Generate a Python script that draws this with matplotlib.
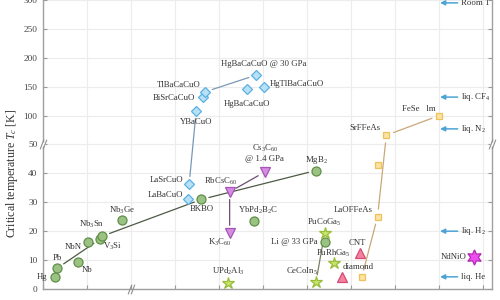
import numpy as np
import matplotlib
matplotlib.use("Agg")
import matplotlib.pyplot as plt
from matplotlib.path import Path

plt.rcParams["font.family"] = ["Liberation Serif", "DejaVu Serif"]
plt.rcParams["mathtext.fontset"] = "custom"
plt.rcParams["mathtext.rm"] = "Liberation Serif"
plt.rcParams["mathtext.it"] = "Liberation Serif:italic"

# conventional (BCS) superconductors
bcs_names = ["Hg", "Pb", "Nb", "NbN", "V$_3$Si", "Nb$_3$Sn", "Nb$_3$Ge",
             "BKBO", "YbPd$_2$B$_2$C", "MgB$_2$", "Li @ 33 GPa"]
bcs_year = [1911, 1913, 1932, 1941, 1952, 1954, 1972, 1988, 1994, 2001, 2002]
bcs_tc = [4.2, 7.2, 9.3, 16.3, 17.3, 18.3, 23.7, 31, 23.5, 41, 16.3]

# heavy fermions
hf_names = ["UPd$_2$Al$_3$", "CeCoIn$_5$", "PuCoGa$_5$", "PuRhGa$_5$"]
hf_year = [1991, 2001, 2002, 2003]
hf_tc = [2.0, 2.3, 19.5, 9.0]

# cuprates
cup_names = ["LaBaCuO", "LaSrCuO", "YBaCuO", "BiSrCaCuO", "TlBaCaCuO",
             "HgBaCaCuO", "HgBaCaCuO @ 30 GPa", "HgTlBaCaCuO"]
cup_year = [1986.5, 1986.6, 1987.4, 1988.2, 1988.4, 1993.2, 1994.2, 1995.1]
cup_tc = [31, 36.3, 108, 132, 141, 146, 170, 150]

# fullerides
c60_names = ["K$_3$C$_{60}$", "RbCsC$_{60}$", "Cs$_3$C$_{60}$\n@ 1.4 GPa"]
c60_year = [1991.2, 1991.2, 1995.2]
c60_tc = [19.4, 33.6, 40.5]

# other carbon
carbon_names = ["diamond", "CNT"]
carbon_year = [2004, 2006]
carbon_tc = [4.0, 12.5]

# iron based
fe_names = ["", "LaOFFeAs", "", "SrFFeAs", "FeSe   lm"]
fe_year = [2006.2, 2008, 2008, 2009, 2015]
fe_tc = [4.0, 25, 43, 66, 100]

# nickelates
ni_names = ["NdNiO"]
ni_year = [2019]
ni_tc = [11]

# coolants
cool_names = ["Room T", "liq. CF$_4$", "liq. N$_2$", "liq. H$_2$", "liq. He"]
cool_tc = [295, 132, 77, 20, 4.2]

year_ticks = [1900, 1940, 1980, 1985, 1990, 1995, 2000, 2005, 2010, 2015, 2020]
tc_ticks = [0, 10, 20, 30, 40, 50, 100, 150, 200, 250, 300]

# label placement: offset in pixels from the marker, alignment
label_pos = {
    "Hg": (-8, 0, "right"), "Pb": (0, 10, "center"), "Nb": (9, -8, "center"),
    "NbN": (-15, -5, "center"), "V$_3$Si": (12, -7, "center"),
    "Nb$_3$Sn": (-11, 12, "center"), "Nb$_3$Ge": (0, 10, "center"),
    "BKBO": (0, -10, "center"), "YbPd$_2$B$_2$C": (4, 11, "center"),
    "MgB$_2$": (0, 11, "center"), "Li @ 33 GPa": (-7, 0, "right"),
    "UPd$_2$Al$_3$": (0, 12, "center"), "CeCoIn$_5$": (-14, 11, "center"),
    "PuCoGa$_5$": (0, 10, "center"), "PuRhGa$_5$": (0, 10, "center"),
    "LaBaCuO": (-5, 4, "right"), "LaSrCuO": (-6, 4, "right"),
    "YBaCuO": (0, -11, "center"), "BiSrCaCuO": (-8, -1, "right"),
    "TlBaCaCuO": (-4, 7, "right"), "HgBaCaCuO": (0, -15, "center"),
    "HgBaCaCuO @ 30 GPa": (8, 11, "center"), "HgTlBaCaCuO": (6, 3, "left"),
    "K$_3$C$_{60}$": (-10, -9, "center"), "RbCsC$_{60}$": (-9, 10, "center"),
    "Cs$_3$C$_{60}$\n@ 1.4 GPa": (0, 19, "center"),
    "diamond": (16, 10, "center"), "CNT": (-3, 10, "center"),
    "LaOFFeAs": (-5, 7, "right"), "SrFFeAs": (-6, 7, "right"),
    "FeSe   lm": (-4, 7, "right"), "NdNiO": (-8, 0, "right"),
}


def x_fwd(x):
    x = np.asarray(x, dtype=float)
    return np.where(x < 1980, (x - 1900) / 8.0, x - 1970)


def x_inv(t):
    t = np.asarray(t, dtype=float)
    return np.where(t < 10, 1900 + 8.0 * t, t + 1970)


def y_fwd(y):
    y = np.asarray(y, dtype=float)
    return np.where(y <= 50, y, 50 + (y - 50) / 5.0)


def y_inv(u):
    u = np.asarray(u, dtype=float)
    return np.where(u <= 50, u, 50 + 5.0 * (u - 50))


fig = plt.figure(figsize=(5, 3), dpi=100)
ax = fig.add_axes([0.086, 0.0367, 0.898, 1.0115])
ax.set_xscale("function", functions=(x_fwd, x_inv))
ax.set_yscale("function", functions=(y_fwd, y_inv))
ax.set_xlim(1900, 2021)
ax.set_ylim(0, 325)
ax.set_xticks(year_ticks)
ax.set_yticks(tc_ticks)
ax.minorticks_off()
ax.tick_params(direction="in", length=3, width=0.8, colors="#999999",
               labelcolor="#444444", labelsize=6.7, right=True, pad=4)
# the year labels sit below the visible area
ax.tick_params(axis="x", labelbottom=False)
ax.grid(True, color="#ececec", lw=0.8, zorder=0)
ax.set_axisbelow(True)
for sp in ax.spines.values():
    sp.set_color("#a0a0a0")
    sp.set_linewidth(1.0)

fig.text(0.024, 0.423, "Critical temperature $T_c$ [K]", rotation=90,
         ha="center", va="center", fontsize=8.6, color="#333333")

# axis break marks
brk = Path([(-0.9, -1.3), (0.1, 1.3), (-0.1, -1.3), (0.9, 1.3)],
           [Path.MOVETO, Path.LINETO, Path.MOVETO, Path.LINETO])
for xb in (1900, 2021):
    ax.plot([xb], [50], marker="s", ms=3.5, mfc="white", mec="none",
            clip_on=False, zorder=5)
    ax.plot([xb], [50], marker=brk, ms=7, mec="#909090", mew=0.8,
            clip_on=False, zorder=6)
ax.plot([1980], [0], marker=brk, ms=7, mec="#909090", mew=0.8,
        clip_on=False, zorder=6)


def links(year, tc, pairs, color, shrink=5.5):
    for i, j in pairs:
        ax.annotate("", xy=(year[j], tc[j]), xytext=(year[i], tc[i]),
                    arrowprops=dict(arrowstyle="-", color=color, lw=0.9,
                                    shrinkA=shrink, shrinkB=shrink),
                    zorder=2)


def family(names, year, tc, marker, ms, fc, ec):
    ax.plot(year, tc, ls="none", marker=marker, ms=ms, mfc=fc, mec=ec,
            mew=0.9, zorder=4, clip_on=False)
    for n, x, y in zip(names, year, tc):
        if n in label_pos:
            dx, dy, ha = label_pos[n]
            ax.annotate(n, (x, y), xytext=(dx, dy), textcoords="offset pixels",
                        ha=ha, va="center", fontsize=6.3, color="#333333",
                        linespacing=1.1, zorder=5)


links(bcs_year, bcs_tc, [(1, 4), (5, 7), (7, 9)], "#4d5a45")
links(hf_year, hf_tc, [(1, 2)], "#7a8060")
links(cup_year, cup_tc, [(1, 2), (4, 6)], "#7b98b5")
links(c60_year, c60_tc, [(0, 1), (1, 2)], "#6a4f70")
links(fe_year, fe_tc, [(0, 1), (1, 3), (3, 4)], "#c9a878")

family(bcs_names, bcs_year, bcs_tc, "o", 6.5, "#9cc283", "#5f8f48")
family(hf_names, hf_year, hf_tc, "*", 9, "#c9e46a", "#98bd3a")
family(cup_names, cup_year, cup_tc, "D", 5, "#b8e0f7", "#5ab2e2")
family(c60_names, c60_year, c60_tc, "v", 7, "#d58be2", "#a455b5")
family(carbon_names, carbon_year, carbon_tc, "^", 7, "#f2849f", "#d64a73")
family(fe_names, fe_year, fe_tc, "s", 5, "#fbe3a0", "#efc15c")
family(ni_names, ni_year, ni_tc, (6, 1, 0), 11, "#f04cf0", "#b02cb0")

# coolant arrows
for n, t in zip(cool_names, cool_tc):
    ax.annotate("", xy=(2015.1, t), xytext=(2017.1, t),
                arrowprops=dict(arrowstyle="-|>", color="#4ea3d6", lw=1.1,
                                mutation_scale=7, shrinkA=0, shrinkB=0))
    ax.text(2017.5, t, n, ha="left", va="center", fontsize=6.3,
            color="#333333")

fig.savefig("out.png", dpi=100)
